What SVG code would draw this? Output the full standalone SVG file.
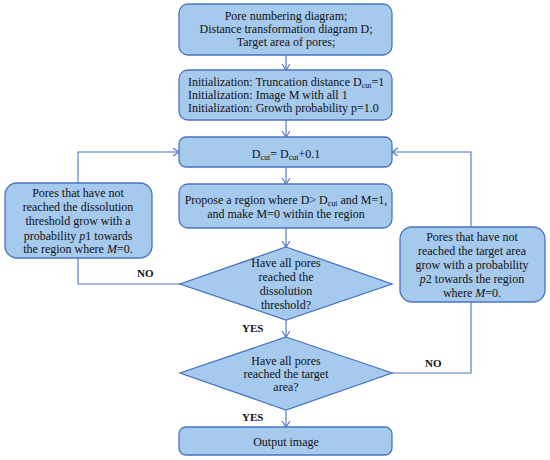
<svg xmlns="http://www.w3.org/2000/svg" width="550" height="460" viewBox="0 0 550 460">
<style>
.box{fill:#a6caee;stroke:#4a74c0;stroke-width:1.3}
.ln{fill:none;stroke:#4a74c0;stroke-width:1.1}
text{font-family:"Liberation Serif","Times New Roman",serif;font-size:12px;fill:#111}
.c{text-anchor:middle}
.b{font-weight:bold;font-size:11px}
.s{font-size:8px}
</style>
<defs>
<marker id="ar" markerUnits="userSpaceOnUse" markerWidth="10" markerHeight="10" refX="6" refY="4" orient="auto">
<path d="M0,0 L6,4 L0,8" fill="none" stroke="#4a74c0" stroke-width="1.1"/>
</marker>
</defs>
<rect width="550" height="460" fill="#fff"/>
<g id="connectors">
<line class="ln" x1="286" y1="55" x2="286" y2="70" marker-end="url(#ar)"/>
<line class="ln" x1="286" y1="120" x2="286" y2="137" marker-end="url(#ar)"/>
<line class="ln" x1="286" y1="167" x2="286" y2="184" marker-end="url(#ar)"/>
<line class="ln" x1="286" y1="228" x2="286" y2="247" marker-end="url(#ar)"/>
<line class="ln" x1="286" y1="320" x2="286" y2="337" marker-end="url(#ar)"/>
<line class="ln" x1="286" y1="410" x2="286" y2="427" marker-end="url(#ar)"/>
<polyline class="ln" points="180,284 78,284 78,258"/>
<polyline class="ln" points="78,183 78,152 179,152" marker-end="url(#ar)"/>
<polyline class="ln" points="392,373 471,373 471,302"/>
<polyline class="ln" points="471,227 471,152 392,152" marker-end="url(#ar)"/>
<text class="b" x="137" y="277">NO</text>
<text class="b" x="425" y="367">NO</text>
<text class="b" x="242" y="332">YES</text>
<text class="b" x="242" y="421">YES</text>
</g>
<g id="n1">
<rect class="box" x="179" y="4" width="213" height="51" rx="9"/>
<text class="c" x="286" y="20">Pore numbering diagram;</text>
<text class="c" x="286" y="33">Distance transformation diagram D;</text>
<text class="c" x="286" y="46">Target area of pores;</text>
</g>
<g id="n2">
<rect class="box" x="179" y="70" width="213" height="50" rx="9"/>
<text x="188" y="86">Initialization: Truncation distance D<tspan class="s" dy="2">cut</tspan><tspan dy="-2">=1</tspan></text>
<text x="188" y="99">Initialization: Image M with all 1</text>
<text x="188" y="112">Initialization: Growth probability p=1.0</text>
</g>
<g id="n3">
<rect class="box" x="179" y="137" width="213" height="30" rx="7"/>
<text class="c" x="286" y="158">D<tspan class="s" dy="2">cut</tspan><tspan dy="-2">= D</tspan><tspan class="s" dy="2">cut</tspan><tspan dy="-2">+0.1</tspan></text>
</g>
<g id="n4">
<rect class="box" x="179" y="184" width="213" height="44" rx="9"/>
<text class="c" x="286" y="204">Propose a region where D&gt; D<tspan class="s" dy="2">cut</tspan><tspan dy="-2"> and M=1,</tspan></text>
<text class="c" x="286" y="218">and make M=0 within the region</text>
</g>
<g id="n5">
<polygon class="box" points="286,247 392,284 286,320 180,284"/>
<text class="c" x="286" y="267">Have all pores</text>
<text class="c" x="286" y="281">reached the</text>
<text class="c" x="286" y="295">dissolution</text>
<text class="c" x="286" y="309">threshold?</text>
</g>
<g id="n6">
<polygon class="box" points="286,337 392,373 286,410 180,373"/>
<text class="c" x="286" y="365">Have all pores</text>
<text class="c" x="286" y="378">reached the target</text>
<text class="c" x="286" y="391">area?</text>
</g>
<g id="n7">
<rect class="box" x="179" y="427" width="213" height="28" rx="7"/>
<text class="c" x="286" y="446">Output image</text>
</g>
<g id="n8">
<rect class="box" x="5" y="183" width="147" height="75" rx="12"/>
<text class="c" x="78" y="197">Pores that have not</text>
<text class="c" x="78" y="211">reached the dissolution</text>
<text class="c" x="78" y="225">threshold grow with a</text>
<text class="c" x="78" y="240">probability <tspan font-style="italic">p</tspan>1 towards</text>
<text class="c" x="78" y="253">the region where <tspan font-style="italic">M</tspan>=0.</text>
</g>
<g id="n9">
<rect class="box" x="400" y="227" width="145" height="75" rx="12"/>
<text class="c" x="472" y="241">Pores that have not</text>
<text class="c" x="472" y="255">reached the target area</text>
<text class="c" x="472" y="269">grow with a probability</text>
<text class="c" x="472" y="283"><tspan font-style="italic">p</tspan>2 towards the region</text>
<text class="c" x="472" y="297">where <tspan font-style="italic">M</tspan>=0.</text>
</g>
</svg>
